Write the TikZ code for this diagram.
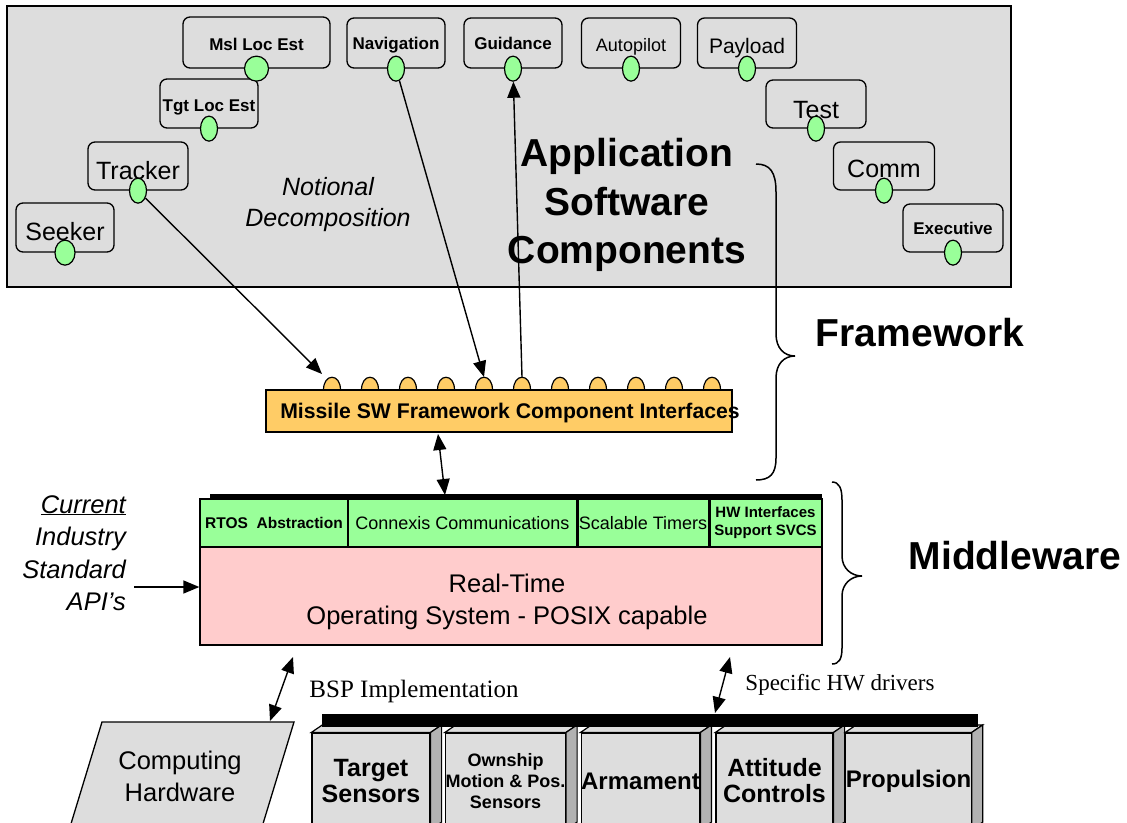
\documentclass[tikz,border=0pt]{standalone}
\usepackage{fontspec}
\setmainfont{Liberation Sans}
\newfontfamily\tnr{Liberation Serif}
\usetikzlibrary{arrows.meta,shapes.geometric}
\definecolor{bg}{HTML}{DDDDDD}
\definecolor{portg}{HTML}{99FF99}
\definecolor{pinkc}{HTML}{FFCCCC}
\definecolor{orangec}{HTML}{FFCC66}
\definecolor{sidec}{HTML}{B2B2B2}
\newcommand\fsz[2]{\fontsize{#1}{#2}\selectfont}
\begin{document}
\begin{tikzpicture}[x=1pt,y=-1pt,
  comp/.style={draw, line width=1.3pt, rounded corners=7pt, fill=bg, inner sep=0pt},
  port/.style={ellipse, draw, line width=1.2pt, fill=portg, minimum width=17pt, minimum height=25pt, inner sep=0pt},
  arr/.style={line width=1.4pt, -{Triangle[length=16pt,width=13pt]}},
  darr/.style={line width=1.4pt, {Triangle[length=16pt,width=13pt]}-{Triangle[length=16pt,width=13pt]}},
  cell/.style={draw, line width=1.3pt, fill=portg, inner sep=0pt, minimum height=48pt},
  hwbox/.style={draw, line width=1.2pt, fill=bg, inner sep=0pt, minimum height=96pt, align=center},
  brace/.style={line width=1.5pt},
  tb/.style={text depth=0pt, text height=#1},
]
\useasboundingbox (0,0) rectangle (1127,822);
\fill[white] (0,0) rectangle (1127,822);

% ---------- top panel ----------
\node[draw, line width=2pt, fill=bg, minimum width=1004pt, minimum height=281pt, inner sep=0pt] (panel) at (509,146.5) {};

\node[font=\itshape\fsz{25}{31}, align=center] (notional) at (328,205) {Notional\\Decomposition};
\node[font=\bfseries\fsz{39}{48.5}, align=center] (asc) at (627,205) {Application\\Software\\Components};

\node[comp, minimum width=147pt, minimum height=51pt, font=\bfseries\fsz{17}{17}, tb=16.4pt] (msl) at (256.5,42.5) {Msl Loc Est};
\node[comp, minimum width=98pt, minimum height=50pt, font=\bfseries\fsz{17}{17}, tb=12.8pt] (nav) at (396,43) {Navigation};
\node[comp, minimum width=98pt, minimum height=50pt, font=\bfseries\fsz{17}{17}] (gdn) at (513,43) {Guidance};
\node[comp, minimum width=99pt, minimum height=50pt, font=\fsz{18}{18}, tb=17.3pt] (apl) at (631,43) {Autopilot};
\node[comp, minimum width=99pt, minimum height=50pt, font=\fsz{21}{21}, tb=21pt] (pay) at (747,43) {Payload};
\node[comp, minimum width=100pt, minimum height=48pt, font=\fsz{25}{25}, tb=28pt] (tst) at (816,104) {Test};
\node[comp, minimum width=101pt, minimum height=48pt, font=\fsz{25}{25}, tb=22pt] (com) at (884,166) {Comm};
\node[comp, minimum width=100pt, minimum height=48pt, font=\bfseries\fsz{17}{17}] (exe) at (953,228) {Executive};
\node[comp, minimum width=98pt, minimum height=49pt, font=\bfseries\fsz{17}{17}, tb=16.8pt] (tgl) at (209,103.5) {Tgt Loc Est};
\node[comp, minimum width=100pt, minimum height=48pt, font=\fsz{25}{25}, tb=26.2pt] (trk) at (138,166) {Tracker};
\node[comp, minimum width=98pt, minimum height=49pt, font=\fsz{25}{25}, tb=26.2pt] (skr) at (65,227.5) {Seeker};

\node[port, minimum width=24pt] (pmsl) at (msl.south) {};
\foreach \n in {nav,gdn,apl,pay,tst,com,exe,tgl,trk}
  \node[port] (p\n) at (\n.south) {};
\node[port, minimum width=20pt] (pskr) at (skr.south) {};

% ---------- framework interfaces ----------
\foreach \i in {1,...,11} {
  \pgfmathsetmacro\bx{332+38*(\i-1)}
  \draw[line width=1.2pt, fill=orangec] (\bx-8.5,390) .. controls (\bx-8.5,373) and (\bx+8.5,373) .. (\bx+8.5,390);
  \coordinate (b\i) at (\bx,377);
}
\node[draw, line width=1.3pt, fill=orangec, minimum width=466pt, minimum height=42pt, inner sep=0pt] (fwbox) at (499,411) {};
\node[font=\bfseries\fsz{21.2}{21.2}] (fwtext) at (510,413) {Missile SW Framework Component Interfaces};

\coordinate (t1) at (322,374);
\draw[arr] (ptrk) -- (t1);
\draw[arr] (pnav) -- (b5);
\draw[arr] (b6) -- (pgdn);

% ---------- middleware ----------
\node[draw, line width=1.3pt, fill=pinkc, minimum width=622pt, minimum height=98pt, inner sep=0pt] (os) at (511,596) {};
\node[font=\fsz{25.5}{32}, align=center] (ostext) at (507,602) {Real-Time\\Operating System - POSIX capable};
\node[cell, minimum width=148pt, font=\bfseries\fsz{15.5}{15.5}] (rtos) at (274,523) {RTOS\ \ Abstraction};
\node[cell, minimum width=229pt, font=\fsz{18}{18}] (cnx) at (462.5,523) {Connexis Communications};
\node[cell, minimum width=132pt, font=\fsz{18}{18}] (tmr) at (643,523) {Scalable Timers};
\node[cell, minimum width=113pt, align=center, font=\bfseries\fsz{15}{18}] (hwi) at (765.5,523) {HW Interfaces\\Support SVCS};
\draw[line width=3pt] (cnx.north east) -- (cnx.south east);
\draw[line width=3pt] (tmr.north east) -- (tmr.south east);
\draw[line width=4pt] (210,496) -- (822,496);

\coordinate (fwlow) at (438,434);
\coordinate (mwtop) at (445,495);
\draw[darr] (fwlow) -- (mwtop);

\node[anchor=east, align=right, font=\itshape\fsz{25.5}{32.5}, inner sep=0pt] (api) at (126,553) {\underline{Current}\\Industry\\Standard\\API's};
\coordinate (apistart) at (134,587);
\draw[arr] (apistart) -- (os.west |- apistart);

% ---------- braces and labels ----------
\draw[brace] (756,164) .. controls (770,164) and (776,172) .. (776,192) -- (776,334)
  .. controls (776,348) and (784,356) .. (795,356) .. controls (784,356) and (776,364) .. (776,378)
  -- (776,458) .. controls (776,474) and (770,480) .. (756,480);
\draw[brace] (832,482) .. controls (839,482) and (842,488) .. (842,500) -- (842,556)
  .. controls (842,568) and (851,576) .. (862,576) .. controls (851,576) and (842,584) .. (842,596)
  -- (842,648) .. controls (842,659) and (839,664) .. (832,664);
\node[font=\bfseries\fsz{39}{39}] (fwk) at (920,333) {Framework};
\node[font=\bfseries\fsz{39}{39}] (mdw) at (1015,556) {Middleware};

% ---------- hardware ----------
\draw[line width=1.3pt, fill=bg] (102,722) -- (294,722) -- (261.7,828) -- (69.7,828) -- cycle;
\node[font=\fsz{25.5}{32}, align=center] (chw) at (180,776) {Computing\\Hardware};

\node[hwbox, minimum width=118pt, font=\bfseries\fsz{25}{25.5}] (tgt) at (371,781) {Target\\Sensors};
\node[hwbox, minimum width=119pt, font=\bfseries\fsz{18}{21}] (own) at (505.5,781) {Ownship\\Motion \& Pos.\\Sensors};
\node[hwbox, minimum width=115pt, font=\bfseries\fsz{24}{24}] (arm) at (640.5,781) {Armament};
\node[hwbox, minimum width=117pt, font=\bfseries\fsz{25}{26}] (att) at (774.5,781) {Attitude\\Controls};
\node[hwbox, minimum width=117pt, font=\bfseries\fsz{24}{24}] (prp) at (908.5,781) {Propulsion};
\foreach \n in {tgt,own,arm,att,prp} {
  \draw[line width=1.2pt, fill=bg] (\n.north west) -- ++(11,-7.5) -- ([shift={(11,-7.5)}]\n.north east) -- (\n.north east) -- cycle;
  \draw[line width=1.2pt, fill=sidec] (\n.north east) -- ++(11,-7.5) -- ([shift={(11,-7.5)}]\n.south east) -- (\n.south east) -- cycle;
}
\node[fill=black, minimum width=656pt, minimum height=13pt, inner sep=0pt] (bus) at (650,720.5) {};

\coordinate (bspA) at (293,657);
\coordinate (bspB) at (270,721);
\draw[darr] (bspA) -- (bspB);
\node[font=\tnr\fsz{25}{25}] (bsp) at (414,691) {BSP Implementation};

\coordinate (hwA) at (730,657);
\coordinate (hwB) at (715,713);
\draw[darr] (hwA) -- (hwB);
\node[font=\tnr\fsz{23}{23}] (shw) at (840,685) {Specific HW drivers};
\end{tikzpicture}
\end{document}
